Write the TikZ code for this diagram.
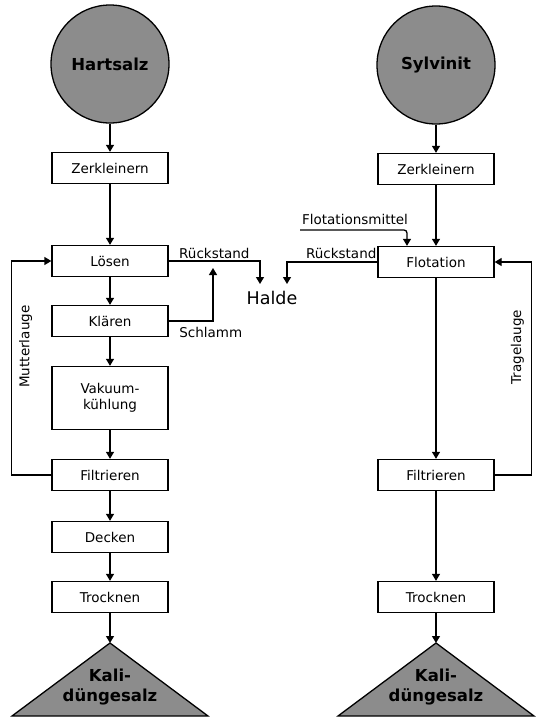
\documentclass[tikz,border=0pt]{standalone}
\usepackage{fontspec}
\setmainfont{DejaVu Sans}
\usepackage{tikz}
\usetikzlibrary{arrows.meta,positioning}
\definecolor{oregray}{RGB}{140,140,140}

\begin{document}
\begin{tikzpicture}[
 x=1pt, y=-1pt, >={Triangle[width=8pt,length=7pt]}, line width=1.3pt,
 font=\fontsize{13.5}{15.5}\selectfont,
 box/.style={draw, fill=white, align=center, minimum width=116pt, minimum height=31pt, inner sep=2pt},
 raw/.style={circle, draw, fill=oregray, minimum size=118pt, inner sep=0pt, font=\fontsize{16.5}{18}\selectfont\bfseries},
 prod/.style={draw, fill=oregray, line join=miter},
 prodtext/.style={align=center, inner sep=0pt, font=\fontsize{16.5}{19.5}\selectfont\bfseries},
 lbl/.style={inner sep=1pt},
 every edge/.style={draw, ->}]
\useasboundingbox (0,0) rectangle (539,718);
\node[raw] (hartsalz) at (110,64) {Hartsalz};
\node[box] (zerkL) at (110,168) {Zerkleinern};
\node[box] (loesen) at (110,261) {Lösen};
\node[box] (klaeren) at (110,321) {Klären};
\node[box, minimum height=63pt] (vakuum) at (110,398) {Vakuum-\\kühlung};
\node[box] (filtL) at (110,475) {Filtrieren};
\node[box] (decken) at (110,537) {Decken};
\node[box] (trockL) at (110,597) {Trocknen};
\coordinate (kaliLtop) at (110,643);
\filldraw[prod] (kaliLtop) -- (12,716) -- (208,716) -- cycle;
\node[prodtext] (kaliL) at (110,687) {Kali-\\düngesalz};
\node[raw] (sylvinit) at (436,65) {Sylvinit};
\node[box] (zerkR) at (436,169) {Zerkleinern};
\node[box] (flot) at (436,262) {Flotation};
\node[box] (filtR) at (436,475) {Filtrieren};
\node[box] (trockR) at (436,597) {Trocknen};
\coordinate (kaliRtop) at (436,643);
\filldraw[prod] (kaliRtop) -- (338,716) -- (534,716) -- cycle;
\node[prodtext] (kaliR) at (436,687) {Kali-\\düngesalz};
\node[font=\fontsize{17.5}{19}\selectfont] (halde) at (272,298) {Halde};
\coordinate (haldeL) at (260,284);
\coordinate (haldeR) at (287,284);
\coordinate (schlammEnd) at (213,268);
\node[lbl] (fmittel) at (355,219) {Flotationsmittel};
\coordinate (fmStart) at (300,230);
\draw (hartsalz) edge (zerkL) (zerkL) edge (loesen) (loesen) edge (klaeren)
 (klaeren) edge (vakuum) (vakuum) edge (filtL) (filtL) edge (decken)
 (decken) edge (trockL) (trockL) edge (kaliLtop);
\draw (sylvinit) edge (zerkR) (zerkR) edge (flot) (flot) edge (filtR)
 (filtR) edge (trockR) (trockR) edge (kaliRtop);
\draw[->] (loesen.east) -| (haldeL) node[lbl, pos=0.25, above=1pt] {Rückstand};
\draw[->] (klaeren.east) -| (schlammEnd);
\node[lbl, anchor=north west] (schlamm) at ([shift={(9,5)}]klaeren.east) {Schlamm};
\draw[->] (flot.west) -| (haldeR) node[lbl, pos=0.2, above=2pt] {Rückstand};
\draw[->, rounded corners=3pt] (fmStart) -| ([xshift=-29pt]flot.north);
\draw[->] (filtL.west) -- ++(-40,0) |- (loesen.west) node[lbl, pos=0.3, right=6pt, rotate=90, anchor=north] {Mutterlauge};
\draw[->] (filtR.east) -- ++(37,0) |- (flot.east) node[lbl, pos=0.3, left=6pt, rotate=90, anchor=south] {Tragelauge};
\end{tikzpicture}
\end{document}
